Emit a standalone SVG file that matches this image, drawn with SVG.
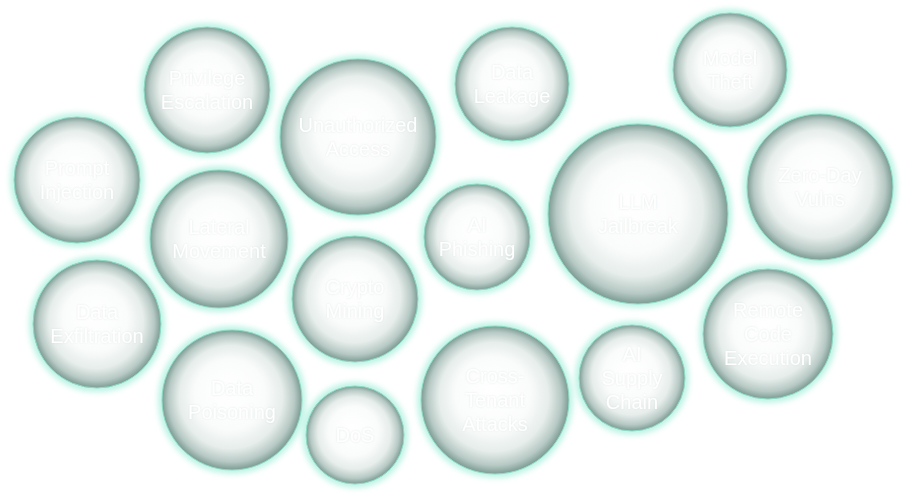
<svg xmlns="http://www.w3.org/2000/svg" width="905" height="497" viewBox="0 0 905 497">
<defs>
<radialGradient id="ball" cx="50%" cy="50%" r="50%" fx="47%" fy="42%">
<stop offset="0%" stop-color="#ffffff"/>
<stop offset="50%" stop-color="#fafcfb"/>
<stop offset="74%" stop-color="#e6edeb"/>
<stop offset="90%" stop-color="#b7c9c4"/>
<stop offset="100%" stop-color="#7c9b93"/>
</radialGradient>
<filter id="glow" x="-20%" y="-20%" width="140%" height="140%">
<feGaussianBlur stdDeviation="3"/>
</filter>
<filter id="tshadow" x="-10%" y="-30%" width="120%" height="160%">
<feDropShadow dx="0" dy="0" stdDeviation="0.8" flood-color="#b8c8c3" flood-opacity="0.35"/>
</filter>
<style>
.halo{fill:none;stroke:#a6f0dc;stroke-width:6;filter:url(#glow)}
.ball{fill:url(#ball);stroke:#8fdcc6;stroke-width:1}
.lbl{font-family:"Liberation Sans",Arial,sans-serif;font-size:20px;fill:#ffffff;text-anchor:middle;filter:url(#tshadow)}
</style>
</defs>
<rect width="905" height="497" fill="#ffffff"/>
<g id="connectors"></g>

<g id="n-privilege"><circle class="halo" cx="207" cy="90" r="63"/><circle class="ball" cx="207" cy="90" r="63"/><text class="lbl" x="207" y="85">Privilege</text><text class="lbl" x="207" y="109">Escalation</text></g>

<g id="n-unauth"><circle class="halo" cx="358" cy="137" r="78"/><circle class="ball" cx="358" cy="137" r="78"/><text class="lbl" x="358" y="132">Unauthorized</text><text class="lbl" x="358" y="156">Access</text></g>

<g id="n-leak"><circle class="halo" cx="512" cy="84" r="57"/><circle class="ball" cx="512" cy="84" r="57"/><text class="lbl" x="512" y="79">Data</text><text class="lbl" x="512" y="103">Leakage</text></g>

<g id="n-theft"><circle class="halo" cx="730" cy="70" r="57"/><circle class="ball" cx="730" cy="70" r="57"/><text class="lbl" x="730" y="65">Model</text><text class="lbl" x="730" y="89">Theft</text></g>

<g id="n-prompt"><circle class="halo" cx="77" cy="180" r="63"/><circle class="ball" cx="77" cy="180" r="63"/><text class="lbl" x="77" y="175">Prompt</text><text class="lbl" x="77" y="199">Injection</text></g>

<g id="n-lateral"><circle class="halo" cx="219" cy="239" r="69"/><circle class="ball" cx="219" cy="239" r="69"/><text class="lbl" x="219" y="234">Lateral</text><text class="lbl" x="219" y="258">Movement</text></g>

<g id="n-ai"><circle class="halo" cx="477" cy="237" r="53"/><circle class="ball" cx="477" cy="237" r="53"/><text class="lbl" x="477" y="232">AI</text><text class="lbl" x="477" y="256">Phishing</text></g>

<g id="n-llm"><circle class="halo" cx="638" cy="214" r="90"/><circle class="ball" cx="638" cy="214" r="90"/><text class="lbl" x="638" y="209">LLM</text><text class="lbl" x="638" y="233">Jailbreak</text></g>

<g id="n-zeroday"><circle class="halo" cx="820" cy="187" r="73"/><circle class="ball" cx="820" cy="187" r="73"/><text class="lbl" x="820" y="182">Zero-Day</text><text class="lbl" x="820" y="206">Vulns</text></g>

<g id="n-exfil"><circle class="halo" cx="97" cy="324" r="64"/><circle class="ball" cx="97" cy="324" r="64"/><text class="lbl" x="97" y="319">Data</text><text class="lbl" x="97" y="343">Exfiltration</text></g>

<g id="n-crypto"><circle class="halo" cx="355" cy="299" r="63"/><circle class="ball" cx="355" cy="299" r="63"/><text class="lbl" x="355" y="294">Crypto</text><text class="lbl" x="355" y="318">Mining</text></g>

<g id="n-rce"><circle class="halo" cx="768" cy="334" r="65"/><circle class="ball" cx="768" cy="334" r="65"/><text class="lbl" x="768" y="317">Remote</text><text class="lbl" x="768" y="341">Code</text><text class="lbl" x="768" y="365">Execution</text></g>

<g id="n-poison"><circle class="halo" cx="232" cy="400" r="70"/><circle class="ball" cx="232" cy="400" r="70"/><text class="lbl" x="232" y="395">Data</text><text class="lbl" x="232" y="419">Poisoning</text></g>

<g id="n-dos"><circle class="halo" cx="355" cy="435" r="49"/><circle class="ball" cx="355" cy="435" r="49"/><text class="lbl" x="355" y="442">DoS</text></g>

<g id="n-cross"><circle class="halo" cx="495" cy="400" r="74"/><circle class="ball" cx="495" cy="400" r="74"/><text class="lbl" x="495" y="383">Cross-</text><text class="lbl" x="495" y="407">Tenant</text><text class="lbl" x="495" y="431">Attacks</text></g>

<g id="n-supply"><circle class="halo" cx="632" cy="378" r="53"/><circle class="ball" cx="632" cy="378" r="53"/><text class="lbl" x="632" y="361">AI</text><text class="lbl" x="632" y="385">Supply</text><text class="lbl" x="632" y="409">Chain</text></g>
</svg>
